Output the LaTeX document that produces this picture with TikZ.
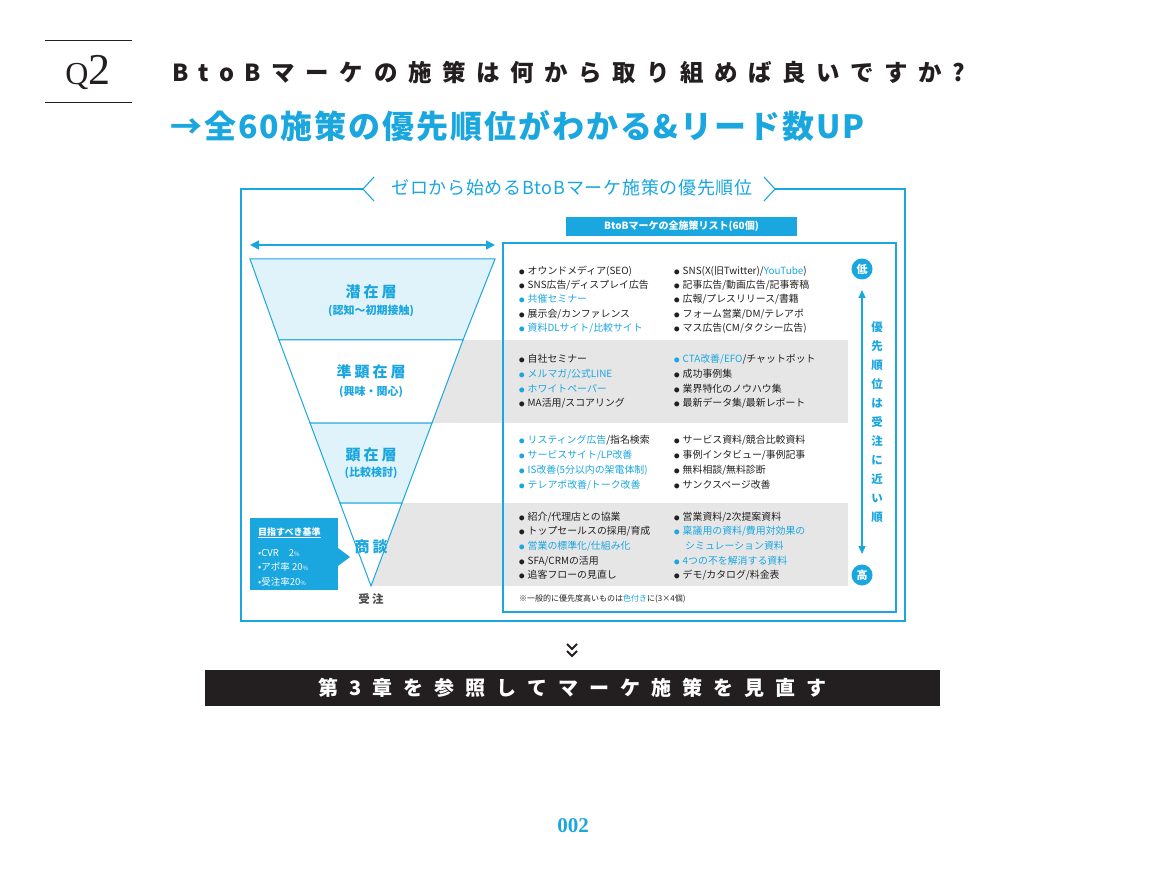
\documentclass[tikz,border=0pt]{standalone}
\usepackage{fontspec}
\usetikzlibrary{arrows.meta}
\newfontfamily\jp{Noto Sans CJK JP}
\newfontfamily\jpA[LetterSpace=45]{Noto Sans CJK JP}
\newfontfamily\jpB[LetterSpace=6]{Noto Sans CJK JP}
\newfontfamily\jpC[LetterSpace=55]{Noto Sans CJK JP}
\newfontfamily\jpD[LetterSpace=20]{Noto Sans CJK JP}
\newfontfamily\jpE[LetterSpace=4]{Noto Sans CJK JP}
\newfontfamily\srf{Liberation Serif}
\definecolor{blu}{HTML}{1AA6DF}
\definecolor{lb}{HTML}{E1F3FA}
\definecolor{gr}{HTML}{E6E6E7}
\definecolor{tx}{HTML}{231F20}
\newcommand{\bl}{{\fontsize{5.5}{6}\selectfont ●}\hspace{3pt}}
\tikzset{
 it/.style={anchor=west,inner sep=0pt,text=tx,font=\jp\fontsize{9.9}{10}\selectfont},
 itb/.style={it,text=blu},
 lay/.style={text=blu,font=\jpD\bfseries\fontsize{15}{15}\selectfont,inner sep=0pt},
 laysub/.style={text=blu,font=\jp\bfseries\fontsize{11}{11}\selectfont,inner sep=0pt},
 circ/.style={circle,fill=blu,text=white,minimum size=21pt,inner sep=0pt,font=\jp\bfseries\fontsize{11}{11}\selectfont}
}
\begin{document}
\begin{tikzpicture}[x=1pt,y=-1pt]
\useasboundingbox (0,0) rectangle (1164,882);
% header
\draw[tx,line width=1pt] (45,41) -- (132,41) (45,103) -- (132,103);
\node[font=\srf\fontsize{44}{44}\selectfont,text=tx] (q2) at (88,73) {{\fontsize{32}{32}\selectfont Q}2};
\node[anchor=west,inner sep=0pt,text=tx,font=\jpA\bfseries\fontsize{23.5}{24}\selectfont] (t1) at (172,73) {BtoBマーケの施策は何から取り組めば良いですか?};
\node[anchor=west,inner sep=0pt,text=blu,font=\jpB\bfseries\fontsize{32}{32}\selectfont] (t2) at (170,126) {→全60施策の優先順位がわかる\&リード数UP};
% outer frame
\draw[blu,line width=1.1pt] (363,189) -- (241,189) -- (241,621) -- (905,621) -- (905,189) -- (775,189);
\draw[blu,line width=1.1pt] (374,177) -- (363,189) -- (374,201);
\draw[blu,line width=1.1pt] (764,177) -- (775,189) -- (764,201);
\node[text=blu,font=\jpE\fontsize{18}{18}\selectfont] (ft) at (572,188) {ゼロから始めるBtoBマーケ施策の優先順位};
\node[fill=blu,text=white,minimum width=231pt,minimum height=19pt,inner sep=0pt,font=\jp\bfseries\fontsize{10}{10}\selectfont] (lst) at (681.5,226.5) {BtoBマーケの全施策リスト(60個)};
\coordinate (da) at (250,245); \coordinate (db) at (495,245);
\draw[blu,line width=1.6pt,{Triangle[length=9pt,width=9pt]}-{Triangle[length=9pt,width=9pt]}] (da) -- (db);
% gray bands
\fill[gr] (380,340) rectangle (848,423);
\fill[gr] (371,503) rectangle (848,586);
% funnel
\draw[blu,line width=1pt,fill=lb] (250,259) -- (495,259) -- (463,340) -- (279,340) -- cycle;
\draw[blu,line width=1pt,fill=white] (279,340) -- (463,340) -- (432,423) -- (310,423) -- cycle;
\draw[blu,line width=1pt,fill=lb] (310,423) -- (432,423) -- (402,503) -- (340,503) -- cycle;
\draw[blu,line width=1pt,fill=white] (340,503) -- (402,503) -- (371,586) -- cycle;
\node[lay] (l1) at (371,292) {潜在層};
\node[laysub] (l1s) at (371,311) {(認知〜初期接触)};
\node[lay] (l2) at (371,372) {準顕在層};
\node[laysub] (l2s) at (371,392) {(興味・関心)};
\node[lay] (l3) at (371,455) {顕在層};
\node[laysub] (l3s) at (371,473) {(比較検討)};
\node[lay] (l4) at (371,547) {商談};
\node[text=tx!80,font=\jpD\bfseries\fontsize{11.5}{11}\selectfont] (l5) at (371,599) {受注};
% target box
\fill[blu] (250,518) rectangle (338,590);
\fill[blu] (338,548) -- (350,557) -- (338,566) -- cycle;
\node[anchor=west,inner sep=0pt,text=white,font=\jp\bfseries\fontsize{9}{9}\selectfont] (g0) at (258,533) {\underline{目指すべき基準}};
\node[anchor=west,inner sep=0pt,text=white,font=\jp\fontsize{9.5}{9}\selectfont] (g1) at (258,553) {•CVR\hspace{10pt}2{\fontsize{6}{6}\selectfont\%}};
\node[anchor=west,inner sep=0pt,text=white,font=\jp\fontsize{9.5}{9}\selectfont] (g2) at (258,567) {•アポ率 20{\fontsize{6}{6}\selectfont\%}};
\node[anchor=west,inner sep=0pt,text=white,font=\jp\fontsize{9.5}{9}\selectfont] (g3) at (258,582) {•受注率20{\fontsize{6}{6}\selectfont\%}};
% inner frame
\draw[blu,line width=2.8pt] (503,243) rectangle (896,612);
% items layer 1
\node[it] (a1) at (519,271) {\bl オウンドメディア(SEO)};
\node[it] (a2) at (519,285) {\bl SNS広告/ディスプレイ広告};
\node[itb] (a3) at (519,299) {\bl 共催セミナー};
\node[it] (a4) at (519,314) {\bl 展示会/カンファレンス};
\node[itb] (a5) at (519,328) {\bl 資料DLサイト/比較サイト};
\node[it] (b1) at (674,271) {\bl SNS(X(旧Twitter)/\textcolor{blu}{YouTube})};
\node[it] (b2) at (674,285) {\bl 記事広告/動画広告/記事寄稿};
\node[it] (b3) at (674,299) {\bl 広報/プレスリリース/書籍};
\node[it] (b4) at (674,314) {\bl フォーム営業/DM/テレアポ};
\node[it] (b5) at (674,328) {\bl マス広告(CM/タクシー広告)};
% layer 2
\node[it] (c1) at (519,359) {\bl 自社セミナー};
\node[itb] (c2) at (519,374) {\bl メルマガ/公式LINE};
\node[itb] (c3) at (519,389) {\bl ホワイトペーパー};
\node[it] (c4) at (519,403) {\bl MA活用/スコアリング};
\node[it] (d1) at (674,359) {\textcolor{blu}{\bl CTA改善/EFO}/チャットボット};
\node[it] (d2) at (674,374) {\bl 成功事例集};
\node[it] (d3) at (674,389) {\bl 業界特化のノウハウ集};
\node[it] (d4) at (674,403) {\bl 最新データ集/最新レポート};
% layer 3
\node[it] (e1) at (519,440) {\textcolor{blu}{\bl リスティング広告}/指名検索};
\node[itb] (e2) at (519,455) {\bl サービスサイト/LP改善};
\node[itb] (e3) at (519,470) {\bl IS改善(5分以内の架電体制)};
\node[itb] (e4) at (519,485) {\bl テレアポ改善/トーク改善};
\node[it] (f1) at (674,440) {\bl サービス資料/競合比較資料};
\node[it] (f2) at (674,455) {\bl 事例インタビュー/事例記事};
\node[it] (f3) at (674,470) {\bl 無料相談/無料診断};
\node[it] (f4) at (674,485) {\bl サンクスページ改善};
% layer 4
\node[it] (g4a) at (519,517) {\bl 紹介/代理店との協業};
\node[it] (g4b) at (519,531) {\bl トップセールスの採用/育成};
\node[itb] (g4c) at (519,546) {\bl 営業の標準化/仕組み化};
\node[it] (g4d) at (519,561) {\bl SFA/CRMの活用};
\node[it] (g4e) at (519,575) {\bl 追客フローの見直し};
\node[it] (h1) at (674,517) {\bl 営業資料/2次提案資料};
\node[itb] (h2) at (674,531) {\bl 稟議用の資料/費用対効果の};
\node[itb] (h3) at (685,546) {シミュレーション資料};
\node[itb] (h4) at (674,561) {\bl 4つの不を解消する資料};
\node[it] (h5) at (674,575) {\bl デモ/カタログ/料金表};
\node[anchor=west,inner sep=0pt,text=tx,font=\jp\fontsize{8}{8}\selectfont] (nt) at (519,599) {※一般的に優先度高いものは\textcolor{blu}{色付き}に(3×4個)};
% priority
\node[circ] (lo) at (862,269) {低};
\node[circ] (hi) at (862,575) {高};
\coordinate (pa) at (862,290); \coordinate (pb) at (862,554);
\draw[blu,line width=1.3pt,{Triangle[length=8pt,width=7pt]}-{Triangle[length=8pt,width=7pt]}] (pa) -- (pb);
\node[text=blu,font=\jp\bfseries\fontsize{11.5}{19}\selectfont,align=center,inner sep=0pt] (pv) at (877,422) {優\\先\\順\\位\\は\\受\\注\\に\\近\\い\\順};
% bottom
\node[inner sep=0pt] (chev) at (572,650) {\tikz[x=1pt,y=-1pt]{\draw[tx,line width=2pt] (-5,-7)--(0,-2)--(5,-7) (-5,0)--(0,5)--(5,0);}};
\node[fill=tx,text=white,minimum width=735pt,minimum height=36pt,inner sep=0pt,font=\jpC\bfseries\fontsize{20}{20}\selectfont] (bar) at (572.5,688) {第3章を参照してマーケ施策を見直す};
\node[text=blu,font=\srf\bfseries\fontsize{21}{21}\selectfont] (pg) at (573,826) {002};
\end{tikzpicture}
\end{document}
